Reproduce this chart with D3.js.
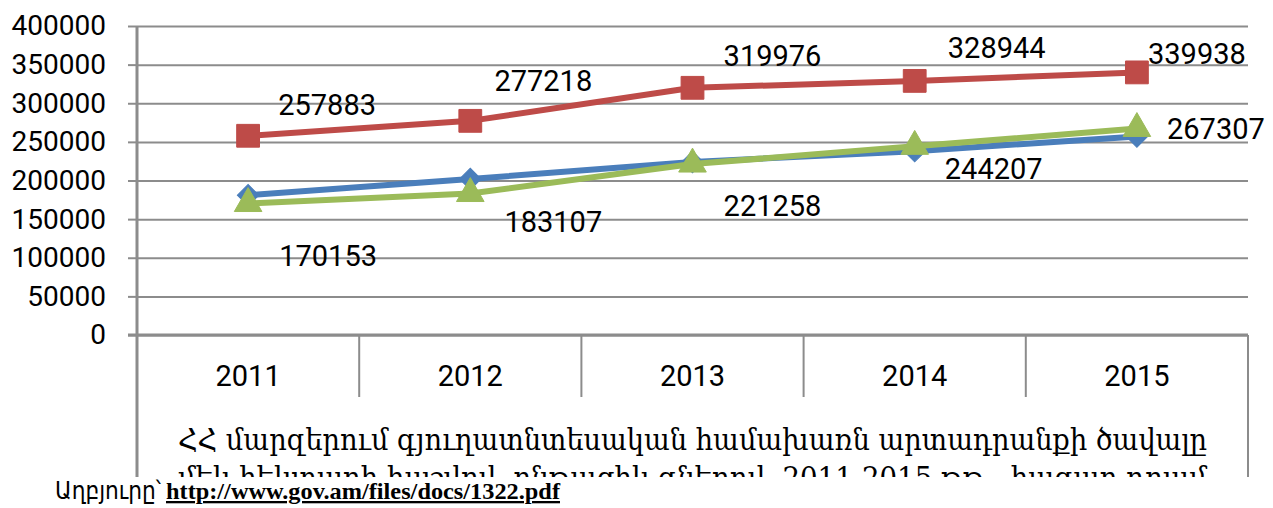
<!DOCTYPE html>
<html lang="hy">
  <head>
    <meta charset="UTF-8" />
    <title>Line chart</title>
    <script src="https://d3js.org/d3.v7.min.js"></script>
    <style>
      body { margin: 0; background: #fff; }
      svg { display: block; }
    </style>
  </head>
  <body>
    <div id="chart"></div>
    <script>
      // data
      const years = ["2011", "2012", "2013", "2014", "2015"];
      const blueValues = [181000, 202000, 224000, 238000, 257000];
      const redValues = [257883, 277218, 319976, 328944, 339938];
      const greenValues = [170153, 183107, 221258, 244207, 267307];
      const yTicks = [0, 50000, 100000, 150000, 200000, 250000, 300000, 350000, 400000];
      const captionLines = [
        "ՀՀ մարզերում գյուղատնտեսական համախառն արտադրանքի ծավալը",
        "մեկ հեկտարի հաշվով, ընթացիկ գներով, 2011-2015 թթ., հազար դրամ",
      ];
      const sourceLabel = "Աղբյուրը՝";
      const sourceUrl = "http://www.gov.am/files/docs/1322.pdf";

      // label nudges (the labels were dragged by hand in the original)
      const redNudge = [[79, -31], [73, -40], [80, -32], [82, -33], [60, -18]];
      const greenNudge = [[80, 52], [83, 28], [80, 42], [79, 23], [79, 0]];

      const W = 1273, H = 508;
      const pLeft = 137, pRight = 1248, pTop = 26, pBottom = 335, clipY = 477;

      const svg = d3.select("#chart").append("svg")
        .attr("width", W).attr("height", H);

      svg.append("clipPath").attr("id", "cut")
        .append("rect").attr("x", 0).attr("y", 0).attr("width", W).attr("height", clipY);

      const x = d3.scaleBand().domain(years).range([pLeft, pRight]);
      const cx = (d) => x(d) + x.bandwidth() / 2;
      const y = d3.scaleLinear().domain([0, 400000]).range([pBottom, pTop]);

      // gridlines
      svg.append("g")
        .attr("transform", `translate(${pLeft},0)`)
        .call(d3.axisLeft(y).tickValues(yTicks).tickSize(-(pRight - pLeft)).tickFormat(""))
        .call((g) => g.select(".domain").remove())
        .call((g) => g.selectAll("line").attr("stroke", "#8c8c8c").attr("stroke-width", 2));

      // y axis labels + ticks
      svg.append("g")
        .attr("transform", `translate(${pLeft},0)`)
        .call(d3.axisLeft(y).tickValues(yTicks).tickSize(9).tickPadding(22).tickFormat(d3.format("d")))
        .call((g) => g.select(".domain").remove())
        .call((g) => g.selectAll("line").attr("stroke", "#8c8c8c").attr("stroke-width", 2))
        .call((g) => g.selectAll("text")
          .attr("fill", "#000")
          .style("font-family", "Roboto, sans-serif")
          .style("font-size", "28px"));

      // data-table frame below the axis
      const frame = svg.append("g").attr("clip-path", "url(#cut)")
        .attr("stroke", "#8c8c8c").attr("fill", "none");
      frame.append("line").attr("x1", pLeft).attr("x2", pLeft)
        .attr("y1", pTop).attr("y2", clipY).attr("stroke-width", 3);
      frame.append("line").attr("x1", pRight).attr("x2", pRight)
        .attr("y1", pBottom).attr("y2", clipY).attr("stroke-width", 2);
      frame.selectAll(".div").data(years.slice(1)).join("line")
        .attr("x1", (d) => x(d)).attr("x2", (d) => x(d))
        .attr("y1", pBottom).attr("y2", 397).attr("stroke-width", 2);
      frame.append("line").attr("x1", pLeft - 9).attr("x2", pRight)
        .attr("y1", pBottom).attr("y2", pBottom).attr("stroke-width", 3);

      // category labels
      svg.append("g").selectAll("text").data(years).join("text")
        .attr("x", cx).attr("y", 376)
        .attr("text-anchor", "middle").attr("dominant-baseline", "central")
        .style("font-family", "Roboto, sans-serif").style("font-size", "29px")
        .text((d) => d);

      // caption in the table (second line is cut off in the original)
      svg.append("g").attr("clip-path", "url(#cut)")
        .selectAll("text").data(captionLines).join("text")
        .attr("x", (pLeft + pRight) / 2)
        .attr("y", (d, i) => 450 + i * 38)
        .attr("text-anchor", "middle")
        .attr("textLength", 1029).attr("lengthAdjust", "spacingAndGlyphs")
        .style("font-family", "'DejaVu Serif', serif").style("font-size", "29px")
        .text((d) => d);

      // series
      const series = [
        { name: "blue", values: blueValues, color: "#4a7ebb", shape: d3.symbolSquare, size: 230, rot: 45 },
        { name: "red", values: redValues, color: "#be4b48", shape: d3.symbolSquare, size: 520, rot: 0 },
        { name: "green", values: greenValues, color: "#9bbb59", shape: d3.symbolTriangle, size: 330, rot: 0 },
      ];
      const line = d3.line().x((d) => cx(d.year)).y((d) => y(d.v));

      series.forEach((s) => {
        const pts = years.map((yr, i) => ({ year: yr, v: s.values[i] }));
        const g = svg.append("g");
        g.append("path").datum(pts)
          .attr("d", line).attr("fill", "none")
          .attr("stroke", s.color).attr("stroke-width", 6)
          .attr("stroke-linejoin", "round");
        g.selectAll("path.m").data(pts).join("path")
          .attr("class", "m")
          .attr("transform", (d) => `translate(${cx(d.year)},${y(d.v)}) rotate(${s.rot})`)
          .attr("d", d3.symbol().type(s.shape).size(s.size))
          .attr("fill", s.color)
          .attr("stroke", s.color).attr("stroke-width", 1);
      });

      // value labels
      const addLabels = (vals, nudge) => {
        svg.append("g").selectAll("text").data(vals).join("text")
          .attr("x", (d, i) => cx(years[i]) + nudge[i][0])
          .attr("y", (d, i) => y(d) + nudge[i][1])
          .attr("text-anchor", "middle").attr("dominant-baseline", "central")
          .style("font-family", "Roboto, sans-serif").style("font-size", "29px")
          .text((d) => d);
      };
      addLabels(redValues, redNudge);
      addLabels(greenValues, greenNudge);

      // source line
      const src = svg.append("text").attr("y", 499);
      src.append("tspan").attr("x", 55)
        .attr("textLength", 106).attr("lengthAdjust", "spacingAndGlyphs")
        .style("font-family", "'DejaVu Sans Condensed', 'DejaVu Sans', sans-serif")
        .style("font-size", "25px")
        .text(sourceLabel);
      src.append("tspan").attr("x", 166)
        .attr("textLength", 394).attr("lengthAdjust", "spacingAndGlyphs")
        .style("font-family", "'Liberation Serif', serif")
        .style("font-weight", "bold").style("font-size", "23px")
        .style("text-decoration", "underline")
        .text(sourceUrl);
    </script>
  </body>
</html>
